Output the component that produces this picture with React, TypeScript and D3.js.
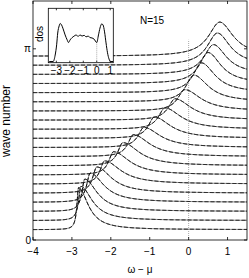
import React from "react";
import * as d3 from "d3";

// wave number (baseline) of each spectrum
const waveNumbers = [0.17, 0.32, 0.47, 0.62, 0.77, 0.92, 1.07, 1.22, 1.37, 1.52, 1.67, 1.82, 1.97, 2.12, 2.27, 2.42, 2.57, 2.72, 2.87, 3.02];
// quasiparticle peak position (omega - mu)
const peakPositions = [-2.83, -2.77, -2.67, -2.53, -2.36, -2.16, -1.93, -1.69, -1.42, -1.15, -0.88, -0.61, -0.35, -0.1, 0.13, 0.33, 0.5, 0.64, 0.74, 0.8];
// peak heights (in wave-number units)
const peakHeights = [0.69, 0.56, 0.53, 0.48, 0.43, 0.38, 0.38, 0.38, 0.36, 0.33, 0.35, 0.35, 0.35, 0.35, 0.44, 0.49, 0.51, 0.49, 0.53, 0.56];
// left / right half widths
const widthLeft = [0.05, 0.07, 0.09, 0.11, 0.13, 0.14, 0.15, 0.16, 0.17, 0.18, 0.19, 0.2, 0.21, 0.22, 0.24, 0.26, 0.28, 0.3, 0.32, 0.35];
const widthRight = [0.3, 0.35, 0.38, 0.42, 0.45, 0.5, 0.5, 0.5, 0.5, 0.5, 0.5, 0.5, 0.5, 0.5, 0.45, 0.42, 0.4, 0.4, 0.4, 0.42];

// inset density of states
const dosOmega = [-3.53, -3.24, -3.09, -2.98, -2.9, -2.79, -2.72, -2.61, -2.5, -2.35, -2.2, -2.1, -1.98, -1.83, -1.68, -1.53, -1.39, -1.24, -1.09, -0.94, -0.79, -0.64, -0.5, -0.35, -0.2, 0, 0.13, 0.24, 0.37, 0.47, 0.58, 0.69, 0.8, 0.91, 1.02, 1.21];
const dosValue = [0, 0, 0.17, 0.44, 0.75, 0.94, 1.0, 0.96, 0.86, 0.7, 0.57, 0.5, 0.57, 0.63, 0.67, 0.7, 0.66, 0.7, 0.67, 0.69, 0.65, 0.67, 0.63, 0.62, 0.59, 0.5, 0.7, 0.88, 0.99, 0.96, 0.78, 0.49, 0.23, 0.07, 0, 0];

const xTicks = [-4, -3, -2, -1, 0, 1];
const insetTicks = [-3, -2, -1, 0, 1];
const yTicks = [0, Math.PI];
const yTickLabels = ["0", "π"];

const W = 249, H = 278;
const m = { left: 33, right: 247, top: 1, bottom: 240 };
const FONT = "Liberation Sans, Arial, Helvetica, sans-serif";

export default function App() {
  const x = d3.scaleLinear().domain([-4, 1.5]).range([m.left, m.right]);
  const y = d3.scaleLinear().domain([0, 1.25 * Math.PI]).range([m.bottom, m.top]);

  const grid = d3.range(-4, 1.5001, 0.01);
  const line = d3.line<[number, number]>().x(d => x(d[0])).y(d => y(d[1]));

  const curves = waveNumbers.map((k, i) => {
    const pts: [number, number][] = grid.map(w => {
      const dw = w - peakPositions[i];
      const g = dw < 0 ? widthLeft[i] : widthRight[i];
      return [w, k + peakHeights[i] / (1 + (dw / g) * (dw / g))];
    });
    return line(pts) || "";
  });

  // inset
  const ib = { left: 48.3, right: 113.3, top: 8.3, bottom: 62.7 };
  const ix = d3.scaleLinear().domain([-3.6, 1.23]).range([ib.left, ib.right]);
  const iy = d3.scaleLinear().domain([-0.03, 1.4]).range([ib.bottom, ib.top]);
  const ipts: [number, number][] = dosOmega.map((w, i) => [w, dosValue[i]]);
  const dosPath = d3.line<[number, number]>().x(d => ix(d[0])).y(d => iy(d[1])).curve(d3.curveMonotoneX)(ipts) || "";

  return (
    <svg width={W} height={H} style={{ position: "absolute", left: 0, top: 0, background: "#fff" }} fontFamily={FONT}>
      <rect x={0} y={0} width={W} height={H} fill="#fff" />
      {/* zero line */}
      <line x1={x(0)} x2={x(0)} y1={y(0)} y2={y(3.29)} stroke="#aaa" strokeWidth={1} strokeDasharray="1 1" />
      {curves.map((d, i) => (
        <g key={i}>
          <path d={d} fill="none" stroke="#666" strokeWidth={0.9} />
          <path d={d} fill="none" stroke="#000" strokeWidth={1} strokeDasharray="4 2" />
        </g>
      ))}
      {/* frame */}
      <rect x={m.left} y={m.top} width={m.right - m.left} height={m.bottom - m.top} fill="none" stroke="#000" strokeWidth={0.8} />
      {xTicks.map(t => (
        <g key={t}>
          <line x1={x(t)} x2={x(t)} y1={m.bottom} y2={m.bottom - 3} stroke="#000" strokeWidth={0.8} />
          <line x1={x(t)} x2={x(t)} y1={m.top} y2={m.top + 3} stroke="#000" strokeWidth={0.8} />
          <text x={x(t)} y={255} fontSize={10} textAnchor="middle">{t < 0 ? "−" + Math.abs(t) : t}</text>
        </g>
      ))}
      {yTicks.map((t, i) => (
        <g key={i}>
          <line x1={m.left} x2={m.left + 3} y1={y(t)} y2={y(t)} stroke="#000" strokeWidth={0.8} />
          <line x1={m.right} x2={m.right - 3} y1={y(t)} y2={y(t)} stroke="#000" strokeWidth={0.8} />
          <text x={31} y={y(t) + 3.5} fontSize={10} textAnchor="end">{yTickLabels[i]}</text>
        </g>
      ))}
      <text x={140} y={273} fontSize={10} textAnchor="middle">ω − μ</text>
      <text transform={`translate(10,121) rotate(-90)`} fontSize={12} textAnchor="middle">wave number</text>
      <text x={152} y={24} fontSize={10} textAnchor="middle">N=15</text>

      {/* inset */}
      <rect x={ib.left} y={ib.top} width={ib.right - ib.left} height={ib.bottom - ib.top} fill="#fff" stroke="#000" strokeWidth={0.8} />
      <line x1={ix(0)} x2={ix(0)} y1={ib.bottom} y2={iy(0.5)} stroke="#aaa" strokeWidth={1} strokeDasharray="1 1" />
      <path d={dosPath} fill="none" stroke="#000" strokeWidth={1} />
      {insetTicks.map(t => (
        <g key={t}>
          <line x1={ix(t)} x2={ix(t)} y1={ib.bottom} y2={ib.bottom - 2} stroke="#000" strokeWidth={0.8} />
          <line x1={ix(t)} x2={ix(t)} y1={ib.top} y2={ib.top + 2} stroke="#000" strokeWidth={0.8} />
          <text x={ix(t)} y={74} fontSize={10} textAnchor="middle">{t < 0 ? "−" + Math.abs(t) : t}</text>
        </g>
      ))}
      <text transform={`translate(43,34) rotate(-90)`} fontSize={10} textAnchor="middle">dos</text>
    </svg>
  );
}
